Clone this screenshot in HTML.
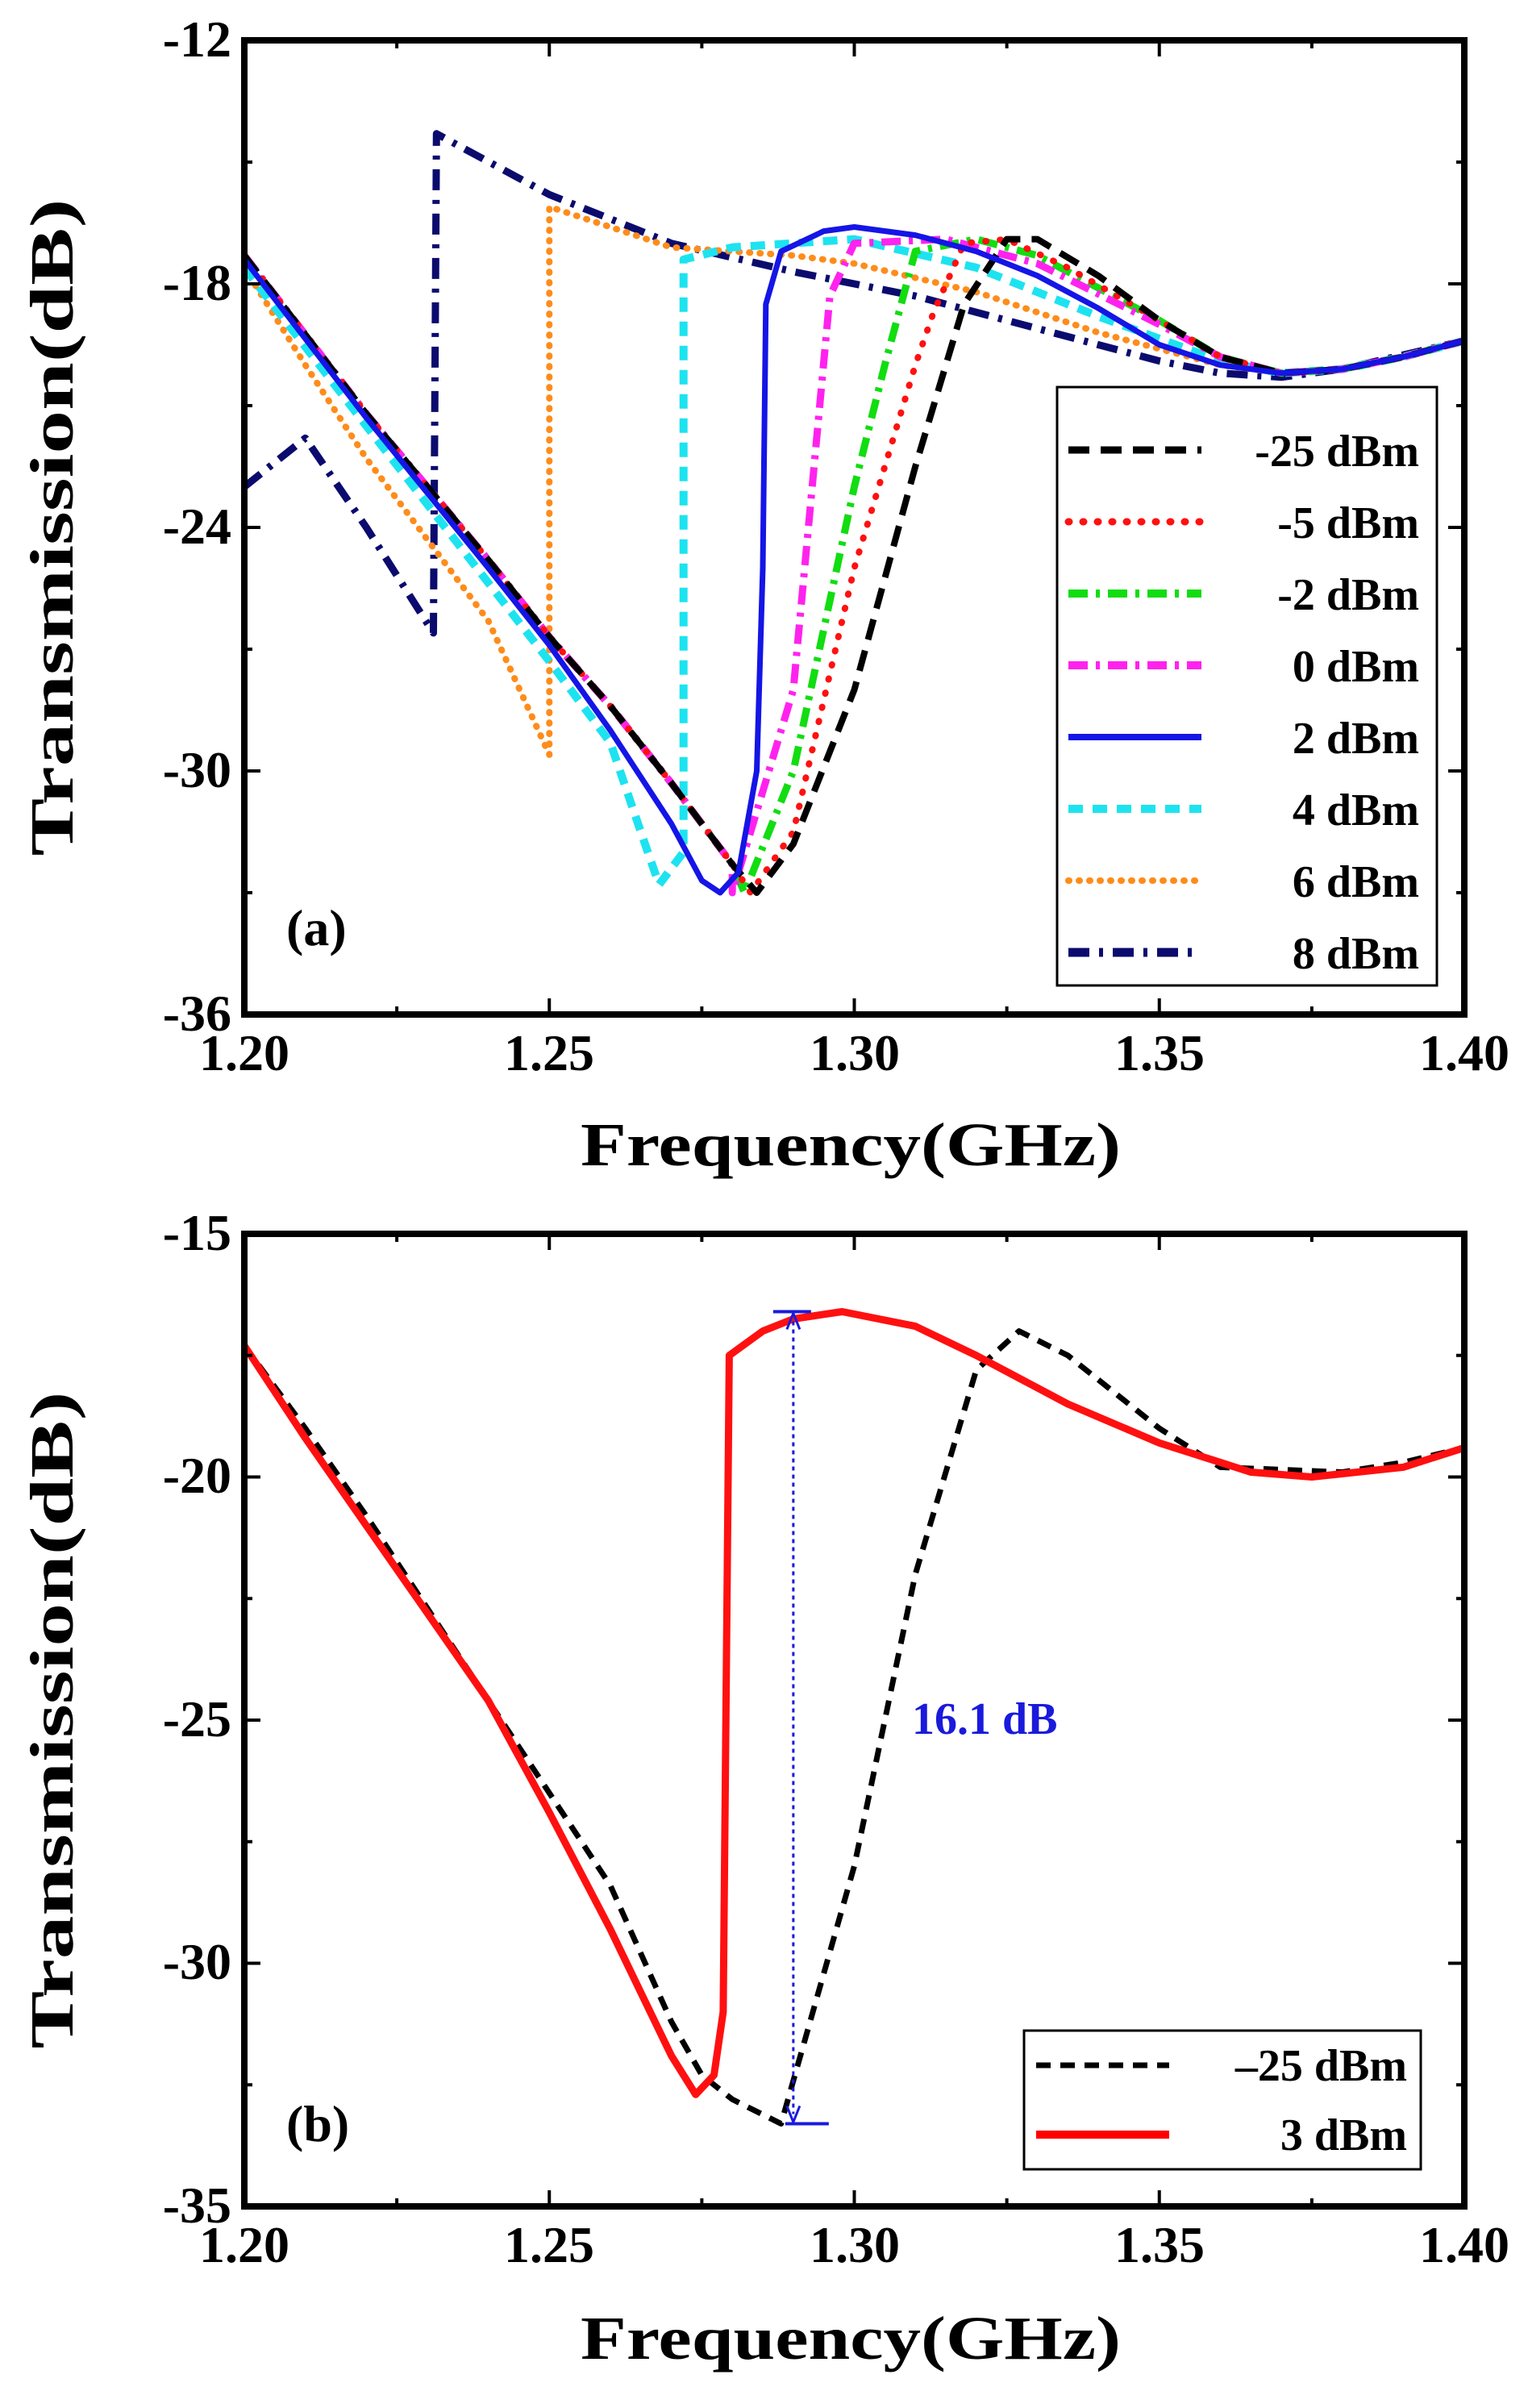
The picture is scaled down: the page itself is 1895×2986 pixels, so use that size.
<!DOCTYPE html>
<html><head><meta charset="utf-8">
<style>
html,body{margin:0;padding:0;background:#fff;}
svg{display:block;}
text{font-family:"Liberation Serif",serif;font-weight:bold;fill:#000;}
</style></head>
<body>
<svg id="s" width="1895" height="2986" viewBox="0 0 1895 2986" xmlns="http://www.w3.org/2000/svg">
<rect width="1895" height="2986" fill="#fff"/>
<g id="ga"></g>
<g id="gb"></g>
<rect x="303" y="50" width="1513" height="1208" fill="none" stroke="#000" stroke-width="8"/>
<rect x="303" y="1530" width="1513" height="1206" fill="none" stroke="#000" stroke-width="8"/>
<g id="ticks" stroke="#000" stroke-width="4"></g>
<g font-size="64" text-anchor="end">
<text x="287" y="70">-12</text>
<text x="287" y="372">-18</text>
<text x="287" y="674">-24</text>
<text x="287" y="976">-30</text>
<text x="287" y="1278">-36</text>
<text x="287" y="1550">-15</text>
<text x="287" y="1851">-20</text>
<text x="287" y="2153">-25</text>
<text x="287" y="2454">-30</text>
<text x="287" y="2756">-35</text>
</g>
<g font-size="64" text-anchor="middle">
<text x="303" y="1327">1.20</text>
<text x="681" y="1327">1.25</text>
<text x="1060" y="1327">1.30</text>
<text x="1438" y="1327">1.35</text>
<text x="1816" y="1327">1.40</text>
<text x="303" y="2805">1.20</text>
<text x="681" y="2805">1.25</text>
<text x="1060" y="2805">1.30</text>
<text x="1438" y="2805">1.35</text>
<text x="1816" y="2805">1.40</text>
</g>
<text x="1055" y="1445" font-size="76" text-anchor="middle" textLength="670" lengthAdjust="spacingAndGlyphs">Frequency(GHz)</text>
<text x="1055" y="2925" font-size="76" text-anchor="middle" textLength="670" lengthAdjust="spacingAndGlyphs">Frequency(GHz)</text>
<text transform="translate(90,654) rotate(-90)" font-size="76" text-anchor="middle" textLength="815" lengthAdjust="spacingAndGlyphs">Transmission(dB)</text>
<text transform="translate(90,2133) rotate(-90)" font-size="76" text-anchor="middle" textLength="815" lengthAdjust="spacingAndGlyphs">Transmission(dB)</text>
<text x="355" y="1172" font-size="64">(a)</text>
<text x="355" y="2655" font-size="64">(b)</text>
<rect x="1311" y="480" width="471" height="742" fill="#fff" stroke="#000" stroke-width="3"/>
<g id="lega"></g>
<g font-size="56" text-anchor="end">
<text x="1760" y="578">-25 dBm</text>
<text x="1760" y="667">-5 dBm</text>
<text x="1760" y="756">-2 dBm</text>
<text x="1760" y="845">0 dBm</text>
<text x="1760" y="934">2 dBm</text>
<text x="1760" y="1023">4 dBm</text>
<text x="1760" y="1112">6 dBm</text>
<text x="1760" y="1201">8 dBm</text>
</g>
<rect x="1270" y="2518" width="492" height="172" fill="#fff" stroke="#000" stroke-width="3"/>
<line x1="1285" y1="2561" x2="1450" y2="2561" stroke="#000" stroke-width="7" stroke-dasharray="18 12"/>
<line x1="1285" y1="2647" x2="1450" y2="2647" stroke="#f00" stroke-width="10"/>
<g font-size="56" text-anchor="end">
<text x="1745" y="2580">–25 dBm</text>
<text x="1745" y="2666">3 dBm</text>
</g>
<text x="1131" y="2150" font-size="56" style="fill:#1a1adc">16.1 dB</text>
</svg>
<script>
var NS="http://www.w3.org/2000/svg";
function X(f){return 303+(f-1.2)/0.2*1513;}
function Ya(d){return 50+(-12-d)/24*1208;}
function Yb(d){return 1530+(-15-d)/20*1206;}
function path(g,pts,Y,col,w,dash,cap){
 var p=document.createElementNS(NS,"path");var s="";
 pts.forEach(function(q,i){s+=(i?"L":"M")+X(q[0]).toFixed(1)+","+Y(q[1]).toFixed(1);});
 p.setAttribute("d",s);p.setAttribute("fill","none");p.setAttribute("stroke",col);
 p.setAttribute("stroke-width",w);p.setAttribute("stroke-linejoin","round");
 if(dash)p.setAttribute("stroke-dasharray",dash);
 p.setAttribute("stroke-linecap",cap||"butt");
 document.getElementById(g).appendChild(p);
}
var A=[[1.20,-17.3],[1.22,-21.2],[1.24,-24.8],[1.25,-26.7],[1.26,-28.4],[1.27,-30.3],[1.28,-32.3]];
var T=[[1.37,-20.2],[1.38,-20.1],[1.39,-19.8],[1.40,-19.4]];
var blk=A.concat([[1.284,-33],[1.29,-31.8],[1.30,-28],[1.31,-22.5],[1.318,-18.5],[1.325,-16.9],[1.33,-16.9],[1.34,-17.8],[1.35,-18.9],[1.36,-19.8]],T);
var red=A.concat([[1.283,-33],[1.29,-31.5],[1.30,-25],[1.31,-20],[1.313,-18.7],[1.318,-17.0],[1.325,-16.9],[1.335,-17.6],[1.35,-18.9],[1.36,-19.8]],T);
var grn=A.concat([[1.282,-33],[1.29,-30],[1.30,-23],[1.305,-20],[1.31,-17.2],[1.32,-16.9],[1.33,-17.3],[1.35,-18.9],[1.36,-19.8]],T);
var mag=A.concat([[1.28,-33],[1.29,-28],[1.296,-18.3],[1.30,-17],[1.315,-16.9],[1.33,-17.5],[1.35,-19.0],[1.36,-19.8]],T);
var blu=[[1.2,-17.4],[1.22,-21.3],[1.24,-25.0],[1.25,-26.9],[1.26,-29.0],[1.27,-31.3],[1.275,-32.7],[1.278,-33],[1.281,-32.5],[1.284,-30],[1.285,-25],[1.2855,-18.5],[1.288,-17.2],[1.295,-16.7],[1.30,-16.6],[1.31,-16.8],[1.32,-17.2],[1.33,-17.8],[1.34,-18.6],[1.35,-19.5],[1.36,-20]].concat(T);
var cyn=[[1.20,-17.6],[1.22,-21.5],[1.25,-27.3],[1.26,-29.3],[1.265,-31.5],[1.268,-32.8],[1.272,-32],[1.272,-17.4],[1.28,-17.1],[1.30,-16.9],[1.32,-17.6],[1.34,-18.8],[1.36,-19.9]].concat(T);
var org=[[1.20,-17.6],[1.21,-20],[1.22,-22.3],[1.24,-26.3],[1.25,-29.6],[1.25,-16.1],[1.26,-16.6],[1.27,-17.1],[1.29,-17.3],[1.30,-17.5],[1.32,-18.2],[1.34,-19.2],[1.36,-20.0]].concat(T);
var nav=[[1.20,-23.0],[1.21,-21.8],[1.22,-24],[1.231,-26.6],[1.2315,-14.3],[1.25,-15.8],[1.27,-17],[1.29,-17.7],[1.31,-18.3],[1.33,-19.1],[1.35,-19.9],[1.36,-20.2],[1.37,-20.3],[1.38,-20.1],[1.40,-19.4]];
var S=[[nav,"#0b0b6e",9,"26 12 5 12"],[org,"#ff8c1a",8,"1 12","round"],[cyn,"#1de3f0",10,"18 12"],[grn,"#11dd11",9,"24 10 5 10"],[mag,"#ff22ee",9,"24 10 5 10"],[red,"#ff1010",8,"1 17","round"],[blk,"#000",8,"26 14"],[blu,"#1515e6",7,null]];
S.forEach(function(s){path("ga",s[0],Ya,s[1],s[2],s[3],s[4]);});
var order=[["#000",9,"26 14"],["#ff1010",9,"1 17","round"],["#11dd11",10,"24 10 5 10"],["#ff22ee",10,"24 10 5 10"],["#1515e6",8,null],["#1de3f0",10,"18 12"],["#ff8c1a",8,"1 12","round"],["#0b0b6e",11,"26 12 5 12"]];
order.forEach(function(o,i){var l=document.createElementNS(NS,"line");var y=558+i*89;
 l.setAttribute("x1",1325);l.setAttribute("x2",1490);l.setAttribute("y1",y);l.setAttribute("y2",y);
 l.setAttribute("stroke",o[0]);l.setAttribute("stroke-width",o[1]);if(o[2])l.setAttribute("stroke-dasharray",o[2]);
 l.setAttribute("stroke-linecap",o[3]||"butt");document.getElementById("lega").appendChild(l);});
var bb=[[1.2,-17.3],[1.21,-19.0],[1.22,-20.8],[1.23,-22.7],[1.24,-24.6],[1.25,-26.5],[1.26,-28.4],[1.27,-31.2],[1.275,-32.3],[1.28,-32.8],[1.288,-33.3],[1.30,-28],[1.31,-22],[1.32,-17.8],[1.327,-17.0],[1.335,-17.5],[1.35,-19],[1.36,-19.8],[1.38,-19.9],[1.39,-19.7],[1.40,-19.4]];
var rb=[[1.2,-17.3],[1.21,-19.2],[1.22,-21.0],[1.23,-22.8],[1.24,-24.6],[1.25,-26.9],[1.26,-29.3],[1.265,-30.6],[1.27,-31.9],[1.274,-32.7],[1.277,-32.3],[1.2785,-31],[1.2795,-17.5],[1.285,-17.0],[1.29,-16.75],[1.298,-16.6],[1.31,-16.9],[1.32,-17.5],[1.335,-18.5],[1.35,-19.3],[1.365,-19.9],[1.375,-20],[1.39,-19.8],[1.40,-19.4]];
path("gb",bb,Yb,"#000",7,"18 12");
path("gb",rb,Yb,"#ff1010",9,null);
(function(){var g=document.getElementById("gb");var x=X(1.29);var y1=Yb(-16.6),y2=Yb(-33.3);
 g.insertAdjacentHTML("beforeend",'<line x1="'+x+'" y1="'+(y1+12)+'" x2="'+x+'" y2="'+(y2-12)+'" stroke="#1a1adc" stroke-width="3" stroke-dasharray="5 5"/>'+
 '<line x1="'+(x-25)+'" y1="'+y1+'" x2="'+(x+22)+'" y2="'+y1+'" stroke="#1a1adc" stroke-width="4"/>'+
 '<line x1="'+(x-10)+'" y1="'+y2+'" x2="'+(x+44)+'" y2="'+y2+'" stroke="#1a1adc" stroke-width="4"/>'+
 '<path d="M'+(x-8)+','+(y1+22)+'L'+x+','+(y1+2)+'L'+(x+8)+','+(y1+22)+'" fill="none" stroke="#1a1adc" stroke-width="3"/>'+
 '<path d="M'+(x-8)+','+(y2-22)+'L'+x+','+(y2-2)+'L'+(x+8)+','+(y2-22)+'" fill="none" stroke="#1a1adc" stroke-width="3"/>');})();
(function(){var t=document.getElementById("ticks");var h="";
 [[50,1258],[1530,2736]].forEach(function(b){
  for(var i=0;i<=8;i++){var x=303+i*1513/8;var L=i%2?10:20;
   h+='<line x1="'+x+'" y1="'+b[1]+'" x2="'+x+'" y2="'+(b[1]-L)+'"/>';
   h+='<line x1="'+x+'" y1="'+b[0]+'" x2="'+x+'" y2="'+(b[0]+L)+'"/>';}
  var H=b[1]-b[0];
  for(var j=0;j<=8;j++){var y=b[0]+j*H/8;var L2=j%2?10:20;
   h+='<line x1="303" y1="'+y+'" x2="'+(303+L2)+'" y2="'+y+'"/>';
   h+='<line x1="1816" y1="'+y+'" x2="'+(1816-L2)+'" y2="'+y+'"/>';}
 });t.innerHTML=h;})();
</script>
</body></html>
